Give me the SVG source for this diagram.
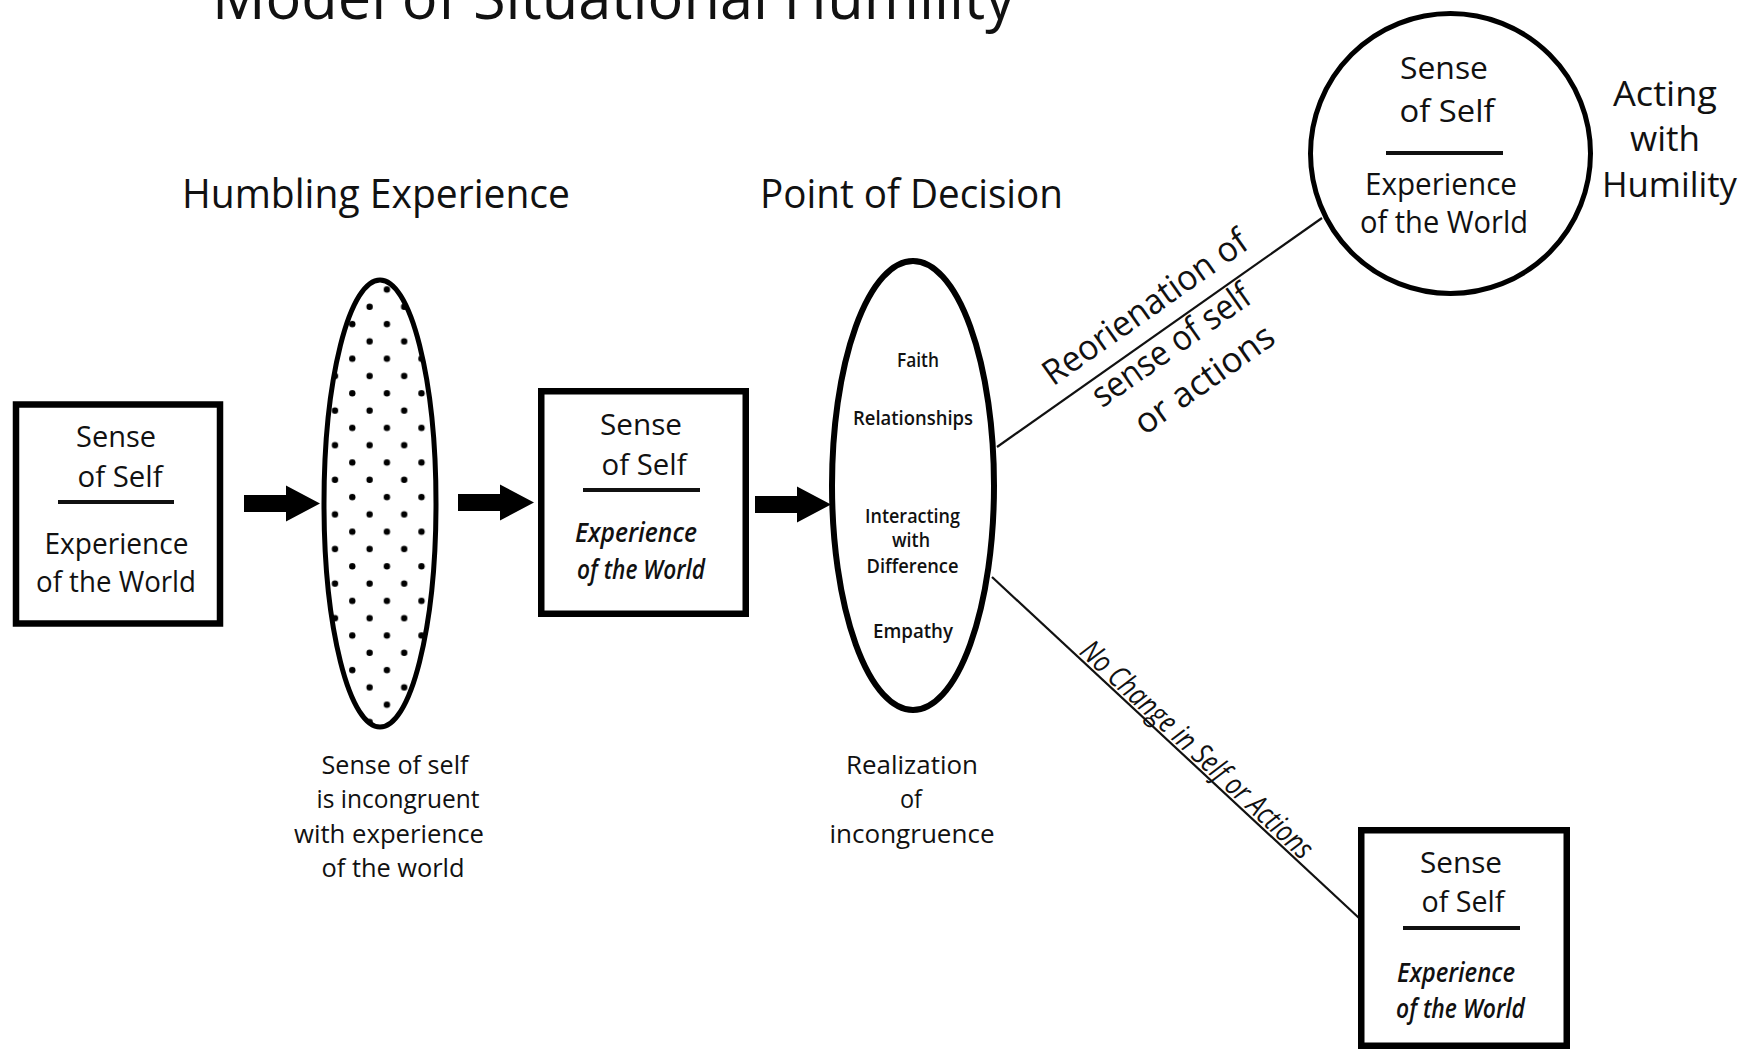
<svg xmlns="http://www.w3.org/2000/svg" width="1758" height="1051" viewBox="0 0 1758 1051">
  <defs>
    <style>
      text { font-family: "Open Sans", "Noto Sans", "Liberation Sans", sans-serif; fill: #111; }
      .c { text-anchor: middle; }
      .frame { fill: #fff; stroke: #000; stroke-width: 6.5; }
      .rule { stroke: #111; stroke-width: 4; }
      .link { stroke: #111; stroke-width: 2.2; fill: none; }
      .lbl { font-size: 29px; }
      .lblc { font-size: 31px; }
      .it { font-size: 27px; font-style: italic; font-weight: 600; }
      .head { font-size: 41px; }
      .small { font-size: 19px; font-weight: 600; }
      .note { font-size: 26px; }
    </style>
    <!-- staggered dot texture for the humbling-experience lens -->
    <pattern id="dots" patternUnits="userSpaceOnUse" x="326.35" y="367.35" width="34.6" height="34.6">
      <circle cx="8.65" cy="8.65" r="3.2" fill="#000"/>
      <circle cx="25.95" cy="25.95" r="3.2" fill="#000"/>
    </pattern>
    <!-- block arrow, tip at the origin -->
    <path id="arrow" d="M-76,-8.5 H-34 V-18 L0,0 L-34,18 V8.5 H-76 Z" fill="#000"/>
  </defs>

  <rect width="1758" height="1051" fill="#fff"/>

  <g id="title">
    <text x="212" y="19" font-size="62" textLength="803" lengthAdjust="spacingAndGlyphs">Model of Situational Humility</text>
  </g>

  <g id="headings">
    <text class="head" x="182" y="208" textLength="388" lengthAdjust="spacingAndGlyphs">Humbling Experience</text>
    <text class="head" x="760" y="208" textLength="303" lengthAdjust="spacingAndGlyphs">Point of Decision</text>
  </g>

  <g id="connectors">
    <use href="#arrow" transform="translate(320,503.5)"/>
    <use href="#arrow" transform="translate(534,502.5)"/>
    <use href="#arrow" transform="translate(831,504.5)"/>
    <line class="link" x1="997" y1="447" x2="1322" y2="218"/>
    <line class="link" x1="992" y1="577" x2="1359" y2="918"/>
    <g id="label-reorientation" font-size="35">
      <text class="c" transform="translate(1152,317) rotate(-35.17)" textLength="242" lengthAdjust="spacingAndGlyphs">Reorienation of</text>
      <text class="c" transform="translate(1178,355) rotate(-35.17)" textLength="186" lengthAdjust="spacingAndGlyphs">sense of self</text>
      <text class="c" transform="translate(1211,389) rotate(-35.17)" textLength="163" lengthAdjust="spacingAndGlyphs">or actions</text>
    </g>
    <g id="label-no-change">
      <text class="c" font-size="30" font-style="italic" transform="translate(1190,757) rotate(42.9)" textLength="305" lengthAdjust="spacingAndGlyphs">No Change in Self or Actions</text>
    </g>
  </g>

  <g id="node-initial">
    <rect class="frame" x="16" y="404.5" width="204" height="219"/>
    <text class="c lbl" x="116" y="447" textLength="80" lengthAdjust="spacingAndGlyphs">Sense</text>
    <text class="c lbl" x="120" y="487" textLength="85" lengthAdjust="spacingAndGlyphs">of Self</text>
    <line class="rule" x1="58" y1="502" x2="174" y2="502"/>
    <text class="c lbl" x="116.5" y="554" textLength="144" lengthAdjust="spacingAndGlyphs">Experience</text>
    <text class="c lbl" x="116" y="592" textLength="160" lengthAdjust="spacingAndGlyphs">of the World</text>
  </g>

  <g id="node-humbling">
    <ellipse cx="380" cy="503.5" rx="56" ry="223.5" fill="url(#dots)" stroke="#000" stroke-width="5"/>
    <text class="c note" x="395" y="774" textLength="147" lengthAdjust="spacingAndGlyphs">Sense of self</text>
    <text class="c note" x="398" y="808" textLength="163" lengthAdjust="spacingAndGlyphs">is incongruent</text>
    <text class="c note" x="389" y="843" textLength="190" lengthAdjust="spacingAndGlyphs">with experience</text>
    <text class="c note" x="393" y="877" textLength="143" lengthAdjust="spacingAndGlyphs">of the world</text>
  </g>

  <g id="node-after">
    <rect class="frame" x="541.25" y="391.25" width="204.5" height="222.5"/>
    <text class="c lbl" x="641" y="435" textLength="82" lengthAdjust="spacingAndGlyphs">Sense</text>
    <text class="c lbl" x="644" y="475" textLength="85" lengthAdjust="spacingAndGlyphs">of Self</text>
    <line class="rule" x1="583" y1="490" x2="700" y2="490"/>
    <text class="c it" x="636" y="542" textLength="122" lengthAdjust="spacingAndGlyphs">Experience</text>
    <text class="c it" x="641" y="579" textLength="128" lengthAdjust="spacingAndGlyphs">of the World</text>
  </g>

  <g id="node-decision">
    <ellipse cx="913" cy="485.5" rx="81" ry="224.5" fill="#fff" stroke="#000" stroke-width="6"/>
    <text class="c small" x="918" y="367" textLength="42" lengthAdjust="spacingAndGlyphs">Faith</text>
    <text class="c small" x="913" y="425" textLength="120" lengthAdjust="spacingAndGlyphs">Relationships</text>
    <text class="c small" x="912.5" y="523" textLength="95" lengthAdjust="spacingAndGlyphs">Interacting</text>
    <text class="c small" x="911" y="547" textLength="38" lengthAdjust="spacingAndGlyphs">with</text>
    <text class="c small" x="912.5" y="573" textLength="92" lengthAdjust="spacingAndGlyphs">Difference</text>
    <text class="c small" x="913" y="638" textLength="80" lengthAdjust="spacingAndGlyphs">Empathy</text>
    <text class="c note" x="912" y="774" textLength="132" lengthAdjust="spacingAndGlyphs">Realization</text>
    <text class="c note" x="911" y="808" textLength="22" lengthAdjust="spacingAndGlyphs">of</text>
    <text class="c note" x="912" y="843" textLength="165" lengthAdjust="spacingAndGlyphs">incongruence</text>
  </g>

  <g id="node-humility">
    <circle cx="1450.5" cy="153.5" r="140" fill="#fff" stroke="#000" stroke-width="5"/>
    <text class="c lblc" x="1444" y="79" textLength="88" lengthAdjust="spacingAndGlyphs">Sense</text>
    <text class="c lblc" x="1447" y="122" textLength="95" lengthAdjust="spacingAndGlyphs">of Self</text>
    <line class="rule" x1="1386" y1="153" x2="1503" y2="153"/>
    <text class="c lblc" x="1441" y="195" textLength="152" lengthAdjust="spacingAndGlyphs">Experience</text>
    <text class="c lblc" x="1444" y="233" textLength="168" lengthAdjust="spacingAndGlyphs">of the World</text>
    <text class="c" font-size="34" x="1665" y="106" textLength="104" lengthAdjust="spacingAndGlyphs">Acting</text>
    <text class="c" font-size="34" x="1665" y="151" textLength="70" lengthAdjust="spacingAndGlyphs">with</text>
    <text class="c" font-size="34" x="1669.5" y="197" textLength="135" lengthAdjust="spacingAndGlyphs">Humility</text>
  </g>

  <g id="node-unchanged">
    <rect class="frame" x="1361.25" y="830.25" width="205.5" height="215.5"/>
    <text class="c lbl" x="1461" y="873" textLength="82" lengthAdjust="spacingAndGlyphs">Sense</text>
    <text class="c lbl" x="1463" y="912" textLength="83" lengthAdjust="spacingAndGlyphs">of Self</text>
    <line class="rule" x1="1403" y1="928" x2="1520" y2="928"/>
    <text class="c it" x="1456" y="982" textLength="118" lengthAdjust="spacingAndGlyphs">Experience</text>
    <text class="c it" x="1460.5" y="1018" textLength="129" lengthAdjust="spacingAndGlyphs">of the World</text>
  </g>
</svg>
